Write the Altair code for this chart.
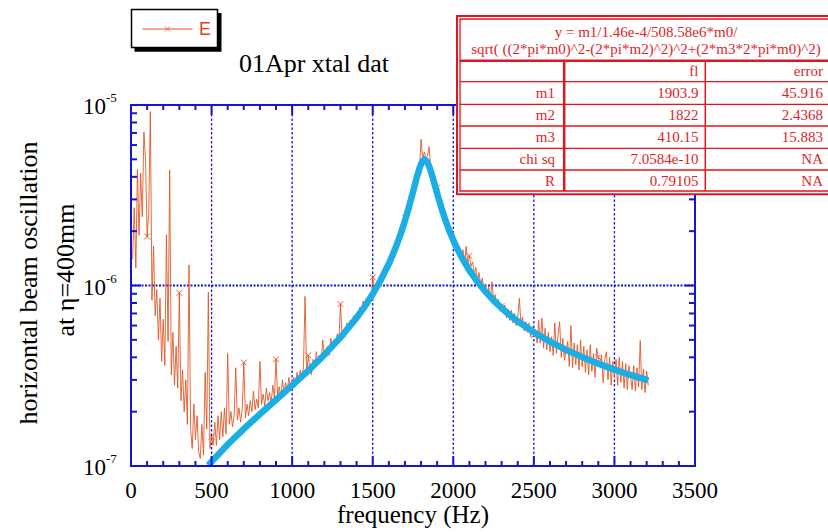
import altair as alt
import pandas as pd

# ---------------- data ----------------
# measured spectrum: frequency bins (Hz) and amplitude (units of 1e-7)
freq = list(range(10, 3220, 10))
amp = [
    14, 27, 12.5, 44, 19, 42, 24, 71, 50, 18.7,
    25, 92, 8.3, 16.5, 6.8, 9.5, 5.0, 8.5, 3.8, 6.5,
    3.6, 19.1, 4.9, 43.7, 3.2, 5.5, 2.8, 4.6, 2.7, 9.1,
    2.3, 3.4, 2.0, 3.0, 1.7, 13.0, 1.6, 1.25, 2.2, 1.4,
    1.9, 1.2, 1.1, 1.7, 1.15, 3.3, 1.6, 9.2, 1.25, 1.45,
    1.3, 1.75, 1.3, 1.9, 1.4, 2.0, 1.45, 2.1, 1.5, 4.2,
    1.7, 2.0, 1.65, 1.9, 3.5, 1.8, 2.1, 1.75, 2.05, 3.74,
    1.85, 2.2, 1.9, 2.3, 2.0, 2.6, 2.05, 2.35, 2.1, 3.8,
    2.2, 2.5, 2.15, 2.7, 2.3, 2.55, 2.25, 2.8, 2.4, 3.9,
    2.45, 2.75, 2.4, 3.0, 2.55, 2.9, 2.6, 3.1, 2.7, 2.9,
    3.1, 2.75, 3.3, 2.9, 3.4, 3.0, 3.5, 8.7, 3.2, 4.1,
    3.5, 3.2, 3.9, 3.5, 4.3, 3.7, 4.1, 3.8, 5.0, 4.0,
    4.3, 4.6, 4.1, 5.1, 4.5, 5.0, 4.6, 5.4, 4.9, 7.9,
    5.0, 5.6, 5.2, 6.2, 5.6, 6.4, 5.9, 6.8, 6.1, 6.9,
    6.5, 7.6, 6.9, 8.2, 7.3, 8.5, 7.9, 9.0, 8.3, 11.1,
    9.0, 10.2, 9.6, 11.2, 10.4, 11.9, 11.2, 12.9, 12.0, 13.8,
    13.2, 15.0, 14.3, 16.8, 16.2, 18.6, 17.9, 21.0, 20.4, 23.9,
    23.5, 27.5, 27.0, 32.0, 32.5, 38.0, 37.5, 45.0, 44.0, 64.6,
    50.0, 55.0, 51.0, 52.0, 58.8, 44.0, 42.5, 38.5, 36.5, 34.9,
    30.5, 29.0, 26.0, 25.5, 23.0, 22.8, 20.5, 20.3, 18.2, 18.9,
    17.0, 17.8, 15.6, 16.4, 14.6, 15.8, 13.6, 16.5, 13.0, 14.6,
    12.8, 13.5, 11.6, 12.6, 10.5, 11.8, 10.0, 11.0, 9.4, 10.2,
    8.8, 9.8, 8.4, 10.5, 8.2, 8.9, 7.7, 8.4, 7.2, 7.7,
    7.0, 7.8, 6.6, 7.4, 6.4, 7.3, 6.2, 7.0, 6.0, 6.6,
    8.5, 6.1, 6.7, 5.6, 6.3, 5.5, 6.2, 5.2, 5.9, 5.3,
    5.7, 4.8, 6.4, 4.8, 6.6, 4.5, 5.8, 4.4, 5.5, 4.3,
    5.2, 4.1, 6.2, 4.2, 5.3, 6.3, 4.0, 5.1, 3.85, 4.3,
    4.9, 3.55, 6.0, 3.5, 4.8, 3.65, 4.7, 3.4, 5.0, 3.55,
    4.6, 3.3, 4.4, 3.2, 4.7, 3.35, 4.2, 3.1, 4.5, 4.0,
    3.6, 4.1, 2.9, 3.9, 4.3, 3.0, 4.0, 2.8, 3.8, 3.1,
    3.9, 2.8, 4.0, 2.9, 3.8, 2.7, 3.7, 2.65, 3.6, 3.16,
    2.65, 3.6, 2.6, 3.5, 2.75, 4.95, 2.65, 3.45, 2.55, 3.35, 2.8,
]

# fitted curve (units of 1e-7)
fit_freq = [480, 500, 600, 700, 800, 900, 1000, 1100, 1200, 1300, 1400, 1450,
            1500, 1550, 1600, 1625, 1650, 1675, 1700, 1725, 1750, 1775, 1790,
            1800, 1810, 1822, 1835, 1850, 1865, 1875, 1900, 1925, 1950, 1975,
            2000, 2025, 2050, 2100, 2150, 2200, 2250, 2300, 2350, 2400, 2500,
            2600, 2700, 2800, 2900, 3000, 3100, 3200, 3210]
fit_amp = [1.009, 1.058, 1.316, 1.606, 1.938, 2.327, 2.796, 3.379, 4.132, 5.153,
           6.628, 7.645, 8.959, 10.72, 13.19, 14.84, 16.88, 19.47, 22.83, 27.25,
           33.04, 40.19, 44.59, 47.11, 48.92, 49.75, 48.80, 45.77, 41.69, 38.84,
           32.32, 27.15, 23.20, 20.18, 17.83, 15.95, 14.43, 12.13, 10.48, 9.235,
           8.268, 7.495, 6.863, 6.336, 5.507, 4.885, 4.400, 4.010, 3.690, 3.422,
           3.194, 2.998, 2.977]

x_tick_values = [0, 500, 1000, 1500, 2000, 2500, 3000, 3500]
x_tick_labels = ["0", "500", "1000", "1500", "2000", "2500", "3000", "3500"]
x_grid = [500, 1000, 1500, 2000, 2500, 3000]
x_minor = [100, 200, 300, 400, 600, 700, 800, 900, 1100, 1200, 1300, 1400,
           1600, 1700, 1800, 1900, 2100, 2200, 2300, 2400, 2600, 2700, 2800,
           2900, 3100, 3200, 3300, 3400]
y_decades = [1e-7, 1e-6, 1e-5]
y_exponents = ["-7", "-6", "-5"]
y_minor = [2e-7, 3e-7, 4e-7, 5e-7, 6e-7, 7e-7, 8e-7, 9e-7,
           2e-6, 3e-6, 4e-6, 5e-6, 6e-6, 7e-6, 8e-6, 9e-6]

formula_lines = ["y = m1/1.46e-4/508.58e6*m0/",
                 "sqrt( ((2*pi*m0)^2-(2*pi*m2)^2)^2+(2*m3*2*pi*m0)^2)"]
col_heads = ["", "fl", "error"]
row_names = ["m1", "m2", "m3", "chi sq", "R"]
row_values = ["1903.9", "1822", "410.15", "7.0584e-10", "0.79105"]
row_errors = ["45.916", "2.4368", "15.883", "NA", "NA"]

# ---------------- styling / layout ----------------
W, H = 564, 361
BLUE = "#1414d6"
ORANGE = "#e2501e"
CYAN = "#1aaee4"
RED = "#e3141e"
RED_TXT = "#de1e2a"
SERIF = "'Liberation Serif', 'Times New Roman', Times, 'DejaVu Serif', serif"
SANS = "'Liberation Sans', Arial, Helvetica, sans-serif"

data = pd.DataFrame({"f": freq, "y": [v * 1e-7 for v in amp]})
fit = pd.DataFrame({"f": fit_freq, "y": [v * 1e-7 for v in fit_amp]})

xs = alt.Scale(domain=[0, 3500], nice=False, zero=False)
ys = alt.Scale(type="log", domain=[1e-7, 1e-5], nice=False)


def X(field="f"):
    return alt.X(f"{field}:Q", scale=xs, axis=None)


def Y(field="y"):
    return alt.Y(f"{field}:Q", scale=ys, axis=None)


one = pd.DataFrame({"a": [0]})
layers = []

# grid
layers.append(alt.Chart(pd.DataFrame({"f": x_grid})).mark_rule(
    color=BLUE, strokeWidth=1.3, strokeDash=[2.5, 2]).encode(
    x=X(), y=alt.value(0), y2=alt.value(H)))
layers.append(alt.Chart(pd.DataFrame({"y": [1e-6]})).mark_rule(
    color=BLUE, strokeWidth=2, strokeDash=[2, 1.5]).encode(
    y=Y(), x=alt.value(0), x2=alt.value(W)))

# data
layers.append(alt.Chart(data).mark_line(
    color=ORANGE, strokeWidth=1, opacity=0.85, clip=True).encode(x=X(), y=Y()))
layers.append(alt.Chart(data).transform_filter(
    "(datum.f - 100) % 200 == 0").mark_point(
    shape="M-1,-1L1,1M-1,1L1,-1", filled=False, size=34, strokeWidth=1,
    color=ORANGE, opacity=0.9, clip=True).encode(x=X(), y=Y()))
layers.append(alt.Chart(fit).mark_line(
    color=CYAN, strokeWidth=6.5, clip=True).encode(x=X(), y=Y()))

# frame and ticks
layers.append(alt.Chart(one).mark_rect(
    fill="white", fillOpacity=0, stroke=BLUE, strokeWidth=2).encode(
    x=alt.value(0), x2=alt.value(W), y=alt.value(0), y2=alt.value(H)))
xmin = pd.DataFrame({"f": x_minor})
xmaj = pd.DataFrame({"f": x_grid})
for df, ln in [(xmin, 5), (xmaj, 10)]:
    layers.append(alt.Chart(df).mark_rule(color=BLUE, strokeWidth=2).encode(
        x=X(), y=alt.value(H), y2=alt.value(H - ln)))
    layers.append(alt.Chart(df).mark_rule(color=BLUE, strokeWidth=2).encode(
        x=X(), y=alt.value(0), y2=alt.value(ln)))
ymin = pd.DataFrame({"y": y_minor})
ymaj = pd.DataFrame({"y": [1e-6]})
for df, ln in [(ymin, 6), (ymaj, 10)]:
    layers.append(alt.Chart(df).mark_rule(color=BLUE, strokeWidth=2).encode(
        y=Y(), x=alt.value(0), x2=alt.value(ln)))
    layers.append(alt.Chart(df).mark_rule(color=BLUE, strokeWidth=2).encode(
        y=Y(), x=alt.value(W), x2=alt.value(W - ln)))

# tick labels
xlab = pd.DataFrame({"f": x_tick_values, "label": x_tick_labels})
layers.append(alt.Chart(xlab).mark_text(
    font=SERIF, fontSize=23, color="black", align="center",
    baseline="middle").encode(x=X(), y=alt.value(386), text="label:N"))
ylab = pd.DataFrame({"y": y_decades, "exp": y_exponents,
                     "base": ["10"] * len(y_decades)})
layers.append(alt.Chart(ylab).mark_text(
    font=SERIF, fontSize=23, color="black", align="right",
    baseline="middle", dy=2).encode(x=alt.value(-25), y=Y(), text="base:N"))
layers.append(alt.Chart(ylab).mark_text(
    font=SERIF, fontSize=13, color="black", align="left",
    baseline="middle", dy=-7).encode(x=alt.value(-25), y=Y(), text="exp:N"))

# axis titles & title
layers.append(alt.Chart(one).mark_text(
    text="frequency (Hz)", font=SERIF, fontSize=25, color="black",
    align="center", baseline="middle").encode(x=alt.value(282), y=alt.value(410)))
layers.append(alt.Chart(one).mark_text(
    text="horizontal beam oscillation", font=SERIF, fontSize=26, color="black",
    align="center", baseline="middle", angle=270).encode(
    x=alt.value(-102), y=alt.value(178)))
layers.append(alt.Chart(one).mark_text(
    text="at \u03b7=400mm", font=SERIF, fontSize=26, color="black",
    align="center", baseline="middle", angle=270).encode(
    x=alt.value(-65), y=alt.value(165)))
layers.append(alt.Chart(one).mark_text(
    text="01Apr xtal dat", font=SERIF, fontSize=26, color="black",
    align="center", baseline="alphabetic").encode(x=alt.value(183), y=alt.value(-33)))

# legend box
layers.append(alt.Chart(one).mark_rect(fill="black").encode(
    x=alt.value(3.5), x2=alt.value(90.5), y=alt.value(-92), y2=alt.value(-53.3)))
layers.append(alt.Chart(one).mark_rect(
    fill="white", stroke="black", strokeWidth=1.5).encode(
    x=alt.value(0.5), x2=alt.value(86.5), y=alt.value(-95.5), y2=alt.value(-57.5)))
layers.append(alt.Chart(one).mark_rule(color=ORANGE, strokeWidth=1).encode(
    x=alt.value(11.5), x2=alt.value(61.5), y=alt.value(-76)))
layers.append(alt.Chart(one).mark_point(
    shape="M-1,-1L1,1M-1,1L1,-1", filled=False, size=26, strokeWidth=1,
    color=ORANGE).encode(x=alt.value(36.5), y=alt.value(-76)))
layers.append(alt.Chart(one).mark_text(
    text="E", font=SANS, fontSize=18, color="#e2461a",
    align="left", baseline="middle").encode(x=alt.value(68), y=alt.value(-75)))

# fit table
TX0, TX1 = 326, 720
layers.append(alt.Chart(one).mark_rect(
    fill="white", stroke=RED, strokeWidth=2).encode(
    x=alt.value(TX0), x2=alt.value(TX1), y=alt.value(-89), y2=alt.value(89.3)))
layers.append(alt.Chart(one).mark_rect(
    fill="white", fillOpacity=0, stroke=RED, strokeWidth=1.3).encode(
    x=alt.value(TX0 + 3), x2=alt.value(TX1), y=alt.value(-86), y2=alt.value(86)))
layers.append(alt.Chart(one).mark_rule(color=RED, strokeWidth=2.5).encode(
    x=alt.value(TX0 + 3), x2=alt.value(TX1), y=alt.value(-44.3)))
row_lines = [-23.3, -0.7, 21, 43.3, 65]
for ry in row_lines:
    layers.append(alt.Chart(one).mark_rule(color=RED, strokeWidth=1.3).encode(
        x=alt.value(TX0 + 3), x2=alt.value(TX1), y=alt.value(ry)))
for cx, cw in [(433.2, 2.5), (574.3, 1.5)]:
    layers.append(alt.Chart(one).mark_rule(color=RED, strokeWidth=cw).encode(
        x=alt.value(cx), y=alt.value(-44.3), y2=alt.value(86)))

for txt, ty in zip(formula_lines, [-73.3, -55.7]):
    layers.append(alt.Chart(one).mark_text(
        text=txt, font=SERIF, fontSize=15, color=RED_TXT, align="center",
        baseline="middle").encode(x=alt.value(515), y=alt.value(ty)))

col_right = [424, 567.5, 692]
row_centers = [-33.8, -12, 10.15, 32.15, 54.15, 75.5]
columns = [[col_heads[0]] + row_names,
           [col_heads[1]] + row_values,
           [col_heads[2]] + row_errors]
for cx, col in zip(col_right, columns):
    for txt, ty in zip(col, row_centers):
        if txt:
            layers.append(alt.Chart(one).mark_text(
                text=txt, font=SERIF, fontSize=15, color=RED_TXT, align="right",
                baseline="middle").encode(x=alt.value(cx), y=alt.value(ty)))

chart = alt.layer(*layers).properties(
    width=W, height=H,
    padding={"left": 131, "top": 105, "right": 133, "bottom": 66},
    autosize=alt.AutoSizeParams(type="none"),
    background="white",
).configure_view(stroke=None)

chart.save("out.html", embed_options={"renderer": "svg", "actions": False})
